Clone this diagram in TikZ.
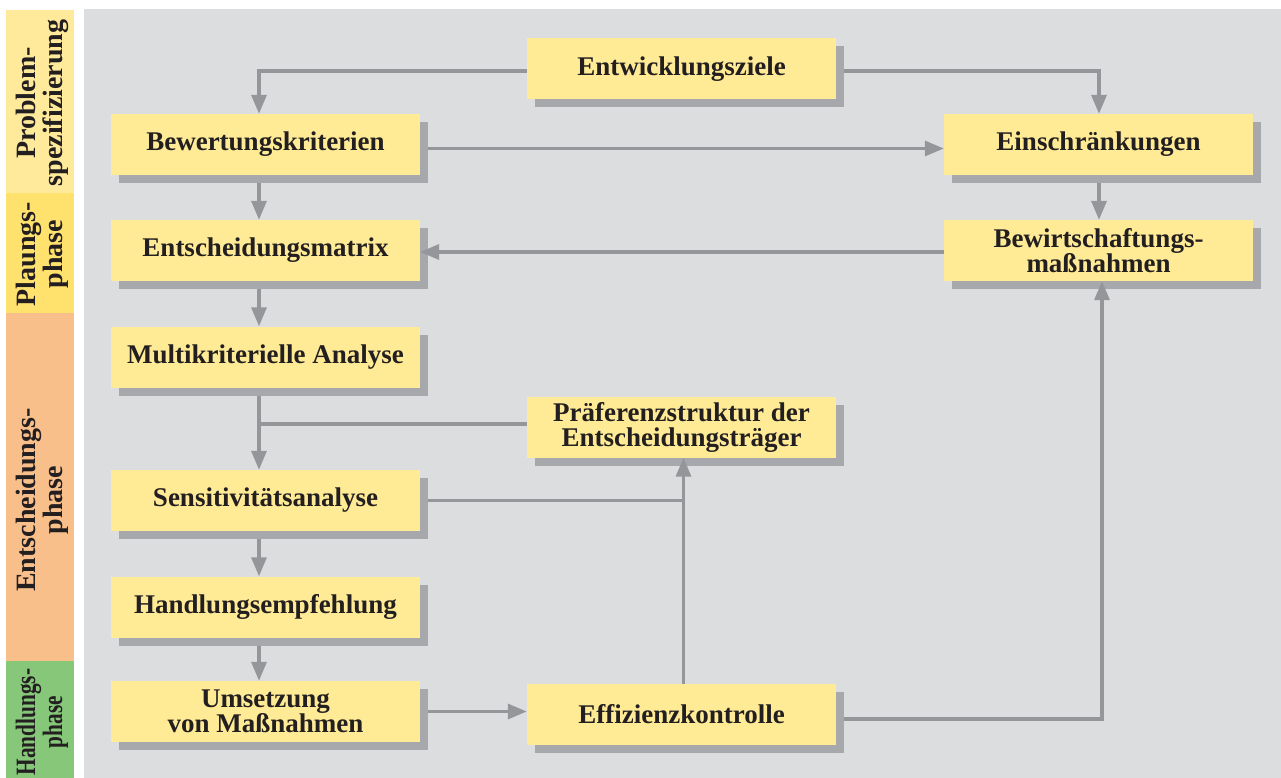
\documentclass[tikz,border=0pt]{standalone}
\usepackage{fontspec}
\setmainfont{Liberation Serif}
\usetikzlibrary{arrows.meta,shadows,calc}
\definecolor{bgc}{HTML}{DCDDDF}
\definecolor{boxc}{HTML}{FFEB95}
\definecolor{shadc}{HTML}{A7A8AC}
\definecolor{linec}{HTML}{95969A}
\definecolor{txtc}{HTML}{231F20}
\definecolor{pha}{HTML}{FEEA9A}
\definecolor{phb}{HTML}{FFE16E}
\definecolor{phc}{HTML}{F9BF8A}
\definecolor{phd}{HTML}{86C77A}
\begin{document}
\begin{tikzpicture}[x=1pt,y=-1pt,
  box/.style={fill=boxc, text=txtc, minimum width=309pt, minimum height=61pt,
    inner sep=0pt, align=center,
    font=\fontsize{27}{25}\selectfont\bfseries,
    drop shadow={shadow xshift=8pt, shadow yshift=-8pt, fill=shadc, opacity=1}},
  phasetext/.style={rotate=90, text=txtc, align=center, inner sep=0pt,
    font=\fontsize{28}{27}\selectfont\bfseries},
  conn/.style={draw=linec, line width=3.3pt},
  arr/.style={conn, -{Triangle[length=19pt,width=15pt]}}]
\useasboundingbox (0,0) rectangle (1281,778);
\fill[white] (0,0) rectangle (1281,778);
\fill[bgc] (84,9) rectangle (1281,778);
% phase bars
\fill[pha] (6,10) rectangle (74,193);
\fill[phb] (6,193) rectangle (74,313);
\fill[phc] (6,313) rectangle (74,661);
\fill[phd] (6,661) rectangle (74,778);
\node[phasetext] (t1) at (42,103) {Problem-\\spezifizierung};
\node[phasetext] (t2) at (42,254) {Plaungs-\\phase};
\node[phasetext] (t3) at (42,500) {Entscheidungs-\\phase};
\node[phasetext] (t4) at (42,722) {\scalebox{0.76}[1]{Handlungs-}\\\scalebox{0.76}[1]{phase}};
% boxes
\node[box] (ez) at (681.5,69) {Entwicklungsziele};
\node[box] (bk) at (265.5,144.5) {Bewertungskriterien};
\node[box] (ein) at (1098.5,144.5) {Einschränkungen};
\node[box] (em) at (265.5,250.5) {Entscheidungsmatrix};
\node[box] (bw) at (1098.5,250.5) {Bewirtschaftungs-\\maßnahmen};
\node[box] (ma) at (265.5,357) {Multikriterielle Analyse};
\node[box] (pr) at (681.5,427) {Präferenzstruktur der\\Entscheidungsträger};
\node[box] (sa) at (265.5,500.5) {Sensitivitätsanalyse};
\node[box] (he) at (265.5,607) {Handlungsempfehlung};
\node[box] (um) at (265.5,711.5) {Umsetzung\\von Maßnahmen};
\node[box] (ek) at (681.5,714.5) {Effizienzkontrolle};
\coordinate (mas) at ([xshift=-6.5pt]ma.south);
\coordinate (ekn) at ([xshift=2pt]ek.north);
% connectors
\draw[arr] ([yshift=-2pt]ez.west) -| ([xshift=-6.5pt]bk.north);
\draw[arr] ([xshift=8pt,yshift=-2pt]ez.east) -| ([xshift=0.5pt]ein.north);
\draw[arr] ([xshift=8pt,yshift=-4pt]bk.east) -- ([yshift=-4pt]ein.west);
\draw[arr] ([xshift=-6.5pt,yshift=-8pt]bk.south) -- ([xshift=-6.5pt]em.north);
\draw[arr] ([xshift=0.5pt,yshift=-8pt]ein.south) -- ([xshift=0.5pt]bw.north);
\draw[arr] ([yshift=-1.5pt]bw.west) -- ([yshift=-1.5pt]bw.west -| em.east);
\draw[arr] ([xshift=-6.5pt,yshift=-8pt]em.south) -- ([xshift=-6.5pt]ma.north);
\draw[arr] ([xshift=-6.5pt,yshift=-8pt]ma.south) -- ([xshift=-6.5pt]sa.north);
\draw[conn] ([yshift=3pt]pr.west) -- ([yshift=3pt]pr.west -| mas);
\draw[conn] ([xshift=8pt]sa.east) -- (sa.east -| ekn);
\draw[arr] (ekn) -- ([xshift=2pt]pr.south);
\draw[arr] ([xshift=-6.5pt,yshift=-8pt]sa.south) -- ([xshift=-6.5pt]he.north);
\draw[arr] ([xshift=-6.5pt,yshift=-8pt]he.south) -- ([xshift=-6.5pt]um.north);
\draw[arr] ([xshift=8pt]um.east) -- (um.east -| ek.west);
\draw[arr] ([xshift=8pt,yshift=-4.5pt]ek.east) -| ([xshift=3.5pt]bw.south);
\end{tikzpicture}
\end{document}
